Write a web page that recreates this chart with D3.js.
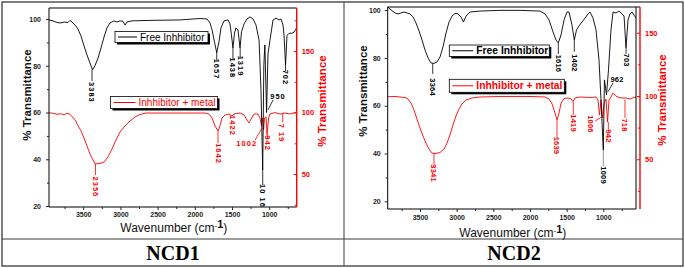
<!DOCTYPE html>
<html>
<head>
<meta charset="utf-8">
<script src="https://cdn.jsdelivr.net/npm/d3@7"></script>
<style>
    body { margin: 0; background: #ffffff; }
    svg text { font-family: Arial, "Liberation Sans", sans-serif; }
</style>
</head>
<body>
<script>
// ---------- 数据 ----------
// x 轴刻度
const wnMajorTicks = [3500, 3000, 2500, 2000, 1500, 1000];
const wnMinorTicks = [3750, 3250, 2750, 2250, 1750, 1250, 750];
const leftMajorTicks = [20, 40, 60, 80, 100];
const leftMinorTicks = [30, 50, 70, 90];
const rightMajorTicks = [50, 100, 150];
const rightMinorTicks = [25, 75, 125, 175];

const panelTitles = ['NCD1', 'NCD2'];
const seriesNames = ['Free Inhhibitor', 'Inhhibitor + metal'];

// NCD1 光谱 [波数, 透过率]
const ncd1Free = [
    [3960, 99.6], [3906, 99.2], [3852, 98.5], [3799, 98.3], [3758, 98.7], [3705, 98.5], [3678, 99.4],
    [3651, 98.7], [3610, 97.4], [3570, 95.7], [3530, 92.7], [3489, 88.5], [3449, 84.6], [3409, 81.2],
    [3375, 78.2], [3342, 80], [3301, 83.3], [3261, 87.6], [3220, 92.3], [3180, 96.2], [3140, 98.3],
    [3086, 99.2], [3046, 98.7], [3005, 99.2], [2965, 99], [2938, 97.4], [2911, 98.7], [2844, 99.2],
    [2602, 99.4], [2199, 99.6], [1930, 100.2], [1836, 100], [1795, 98.3], [1768, 95.3], [1735, 90.2],
    [1705, 85.5], [1675, 90.2], [1648, 96.2], [1607, 99.2], [1553, 99.6], [1527, 97.9], [1507, 93.2],
    [1487, 87.6], [1466, 94], [1446, 96.2], [1419, 95.3], [1392, 87.6], [1372, 94.5], [1338, 97.9],
    [1298, 100], [1258, 100.9], [1217, 100], [1177, 97.4], [1136, 91], [1110, 69.6], [1087, 35.4],
    [1072, 80], [1058, 88.9], [1035, 60], [1016, 85], [989, 91], [948, 99.6], [908, 100.4], [868, 99.6],
    [841, 100], [814, 97.4], [800, 93], [780, 80.3], [760, 93], [733, 93.9], [693, 93.9], [666, 94.4],
    [630, 96.2]
];
const ncd1Metal = [
    [3960, 99.8], [3906, 99.4], [3852, 98.6], [3799, 99], [3758, 98.2], [3718, 99.4], [3678, 98.6],
    [3651, 96.6], [3610, 94.2], [3570, 89.3], [3530, 85.2], [3489, 79.3], [3449, 72.8], [3409, 66.3],
    [3368, 61.4], [3342, 58.2], [3274, 58.6], [3220, 59.8], [3167, 63.9], [3113, 70.4], [3059, 77.7],
    [3005, 84.2], [2938, 89.1], [2871, 93.1], [2804, 96.4], [2737, 98.4], [2656, 99.6], [2199, 99.6],
    [1863, 99.6], [1809, 98.8], [1768, 95.6], [1728, 89.1], [1688, 85], [1661, 89.1], [1634, 95.6],
    [1594, 98], [1540, 98.8], [1500, 97.2], [1473, 98.8], [1392, 99.6], [1338, 98], [1298, 93.9],
    [1271, 91.5], [1244, 94.7], [1204, 98.8], [1150, 98.8], [1123, 95.6], [1103, 89.1], [1090, 95.6],
    [1076, 85.8], [1062, 95.6], [1042, 96.4], [1029, 81.8], [1008, 95.6], [989, 98.8], [922, 100],
    [854, 98.8], [787, 99.6], [720, 98.8], [630, 100.4]
];

// NCD2 光谱
const ncd2Free = [
    [3940, 101.3], [3895, 100.1], [3840, 98.8], [3800, 98.4], [3759, 98.8], [3718, 99.2], [3677, 98.8],
    [3636, 98.4], [3595, 97.2], [3554, 94.6], [3513, 91.3], [3472, 87.5], [3431, 83.3], [3390, 80],
    [3350, 77.9], [3309, 77.7], [3268, 78.3], [3227, 80.4], [3186, 84.6], [3145, 90.4], [3104, 95],
    [3063, 97.5], [3022, 98.6], [2981, 98.4], [2940, 97.1], [2907, 95], [2872, 97.5], [2818, 99.2],
    [2682, 99.6], [2409, 99.9], [2136, 99.9], [1864, 99.6], [1795, 98.4], [1741, 95.9], [1686, 90.9],
    [1646, 87.5], [1614, 86.3], [1577, 89.6], [1536, 95.9], [1496, 99.2], [1468, 99.2], [1428, 93.8],
    [1396, 87.5], [1366, 91.7], [1332, 93.4], [1291, 95], [1250, 96.7], [1210, 98.4], [1182, 99.2],
    [1141, 96.7], [1100, 91.7], [1059, 79.1], [1032, 62.4], [1001, 41.5], [985, 70.8], [957, 64.5],
    [930, 75], [896, 91.7], [868, 99.2], [828, 98.8], [787, 99.6], [746, 98.4], [718, 97.5], [691, 84.2],
    [664, 95.9], [637, 98.4], [609, 99.2], [582, 97.9], [555, 96.7]
];
const ncd2Metal = [
    [3940, 99.4], [3840, 99.6], [3772, 99.2], [3704, 98.8], [3663, 97.6], [3622, 94.4], [3581, 88.9],
    [3541, 81.8], [3500, 74.7], [3459, 68.4], [3418, 62.8], [3377, 58.1], [3336, 54.9], [3295, 54.5],
    [3227, 55.3], [3172, 58.1], [3131, 62.8], [3091, 69.2], [3050, 77], [3009, 84.2], [2968, 89.7],
    [2927, 93.7], [2872, 96.8], [2791, 98.4], [2682, 99.2], [2409, 99.6], [2000, 99.6], [1795, 99.2],
    [1741, 97.6], [1699, 93.7], [1659, 86.5], [1631, 81], [1604, 86.5], [1577, 94.4], [1536, 98],
    [1482, 98.4], [1441, 97.6], [1413, 95.6], [1386, 98.4], [1318, 99.2], [1182, 98.8], [1100, 99.2],
    [1073, 96.8], [1052, 84.9], [1032, 96.8], [1012, 82.6], [991, 93.7], [964, 97.6], [943, 79.4],
    [923, 96.8], [896, 99.2], [868, 102.3], [828, 99.9], [787, 98.8], [746, 98.4], [691, 98.4],
    [637, 97.6], [582, 98.8], [555, 99.2]
];

// 峰标注: 文本, 波数, 透过率, 是否竖排, 引线 [波数1, 值1, 波数2, 值2]
const ncd1FreePeaks = [
    {text: '3383', wn: 3382, t: 68.6, rot: true, lead: [3382, 78.2, 3382, 73.5]},
    {text: '1657', wn: 1705, t: 78.6, rot: true, lead: [1705, 85.5, 1705, 82.3]},
    {text: '1438', wn: 1487, t: 79.1, rot: true, lead: [1487, 87.6, 1487, 82.7]},
    {text: '1319', wn: 1390, t: 79.9, rot: true, lead: [1390, 87.6, 1390, 83.5]},
    {text: '702', wn: 780, t: 75, rot: true, lead: [780, 80.3, 780, 77.7]},
    {text: '950', wn: 881, t: 67, rot: false, lead: [948, 65.4, 1016, 61.1]},
    {text: '10 16', wn: 1087, t: 24.3, rot: true, lead: [1087, 35.4, 1087, 29]}
];
const ncd1MetalPeaks = [
    {text: '2356', wn: 3335, t: 39.5, rot: true, lead: [3335, 58.2, 3335, 49.2]},
    {text: '1642', wn: 1688, t: 66.7, rot: true, lead: [1688, 85, 1688, 75.2]},
    {text: '1422', wn: 1493, t: 89.5, rot: true, lead: null},
    {text: '1002', wn: 1302, t: 75.2, rot: false, lead: [1190, 77.7, 1096, 87.4]},
    {text: '942', wn: 1025, t: 75.2, rot: true, lead: [1025, 81.8, 1025, 78.6]},
    {text: '7 19', wn: 841, t: 83.4, rot: true, lead: [818, 99.6, 818, 91.9]}
];
const ncd2FreePeaks = [
    {text: '3364', wn: 3326, t: 67.8, rot: true, lead: [3326, 77.7, 3326, 73.3]},
    {text: '1616', wn: 1614, t: 77.7, rot: true, lead: [1614, 86.3, 1614, 81.6]},
    {text: '1402', wn: 1396, t: 77.9, rot: true, lead: [1396, 87.5, 1396, 82.6]},
    {text: '1009', wn: 1001, t: 31, rot: true, lead: [1001, 41.5, 1001, 34.6]},
    {text: '962', wn: 814, t: 70.8, rot: false, lead: [936, 65.9, 868, 69.5]},
    {text: '703', wn: 691, t: 79.1, rot: true, lead: [691, 84.2, 691, 81.7]}
];
const ncd2MetalPeaks = [
    {text: '3341', wn: 3309, t: 39.1, rot: true, lead: [3309, 54.5, 3309, 44.3]},
    {text: '1639', wn: 1632, t: 60.9, rot: true, lead: [1632, 81, 1632, 66.8]},
    {text: '1419', wn: 1410, t: 78.6, rot: true, lead: [1410, 95.6, 1410, 85]},
    {text: '1006', wn: 1182, t: 77.9, rot: true, lead: [1113, 80.2, 1022, 83.5]},
    {text: '942', wn: 932, t: 68.4, rot: true, lead: [932, 79.4, 932, 72.3]},
    {text: '718', wn: 705, t: 77.1, rot: true, lead: [705, 96.8, 705, 82.6]}
];

const RED = '#ff0000';

const svg = d3.select('body').append('svg')
    .attr('width', 685)
    .attr('height', 268);

// ---------- 表格外框 ----------
const table = svg.append('g').attr('stroke', '#3a3a3a').attr('fill', 'none');
table.append('rect').attr('x', 2).attr('y', 2).attr('width', 681).attr('height', 264).attr('stroke-width', 1.3);
table.append('line').attr('x1', 344).attr('x2', 344).attr('y1', 2).attr('y2', 266);
table.append('line').attr('x1', 2).attr('x2', 683).attr('y1', 239).attr('y2', 239);

/**
 * 绘制一个光谱面板
 */
const drawPanel = (p) => {
    const x = d3.scaleLinear().domain(p.xDomain).range([p.left, p.right]);
    const yL = d3.scaleLinear().domain(p.yLeftDomain).range([p.bottom, p.top]);
    const yR = d3.scaleLinear().domain(p.yRightDomain).range([p.bottom, p.top]);
    const g = svg.append('g');

    // 曲线
    const lineFor = ys => d3.line().x(d => x(d[0])).y(d => ys(d[1]));
    g.append('path').datum(p.metal)
        .attr('d', lineFor(yR))
        .attr('fill', 'none').attr('stroke', RED).attr('stroke-width', 0.9);
    g.append('path').datum(p.free)
        .attr('d', lineFor(yL))
        .attr('fill', 'none').attr('stroke', '#000').attr('stroke-width', 0.9);

    // 边框
    g.append('path')
        .attr('d', `M${p.redX},${p.top} H${p.left} V${p.bottom} H${p.right}` + (p.redX !== p.right ? ` M${p.right},${p.top} V${p.bottom}` : ''))
        .attr('fill', 'none').attr('stroke', '#000').attr('stroke-width', 1);
    g.append('line')
        .attr('x1', p.redX).attr('x2', p.redX).attr('y1', p.top).attr('y2', p.bottom)
        .attr('stroke', RED).attr('stroke-width', 1.4);

    const styleTicks = (sel, color, size) => {
        sel.select('.domain').remove();
        sel.selectAll('line').attr('stroke', color);
        sel.selectAll('text')
            .attr('fill', color)
            .attr('font-size', size)
            .attr('font-weight', 'bold')
            .attr('font-family', 'Arial, "Liberation Sans", sans-serif');
    };

    // x 轴
    const xAxisG = g.append('g').attr('transform', `translate(0,${p.bottom})`)
        .call(d3.axisBottom(x).tickValues(wnMajorTicks).tickSize(3).tickPadding(p.xPad).tickFormat(d3.format('d')));
    styleTicks(xAxisG, '#222', 7);
    g.append('g').attr('transform', `translate(0,${p.bottom})`)
        .call(d3.axisBottom(x).tickValues(wnMinorTicks).tickSize(2).tickFormat(''))
        .call(s => styleTicks(s, '#222', 7));

    // 左 y 轴
    const yLG = g.append('g').attr('transform', `translate(${p.left},0)`)
        .call(d3.axisLeft(yL).tickValues(leftMajorTicks).tickSize(3).tickPadding(p.yPad));
    styleTicks(yLG, '#222', 7);
    g.append('g').attr('transform', `translate(${p.left},0)`)
        .call(d3.axisLeft(yL).tickValues(leftMinorTicks).tickSize(2).tickFormat(''))
        .call(s => styleTicks(s, '#222', 7));

    // 右 y 轴 (红色)
    const yRG = g.append('g').attr('transform', `translate(${p.redX},0)`)
        .call(d3.axisRight(yR).tickValues(rightMajorTicks).tickSizeInner(-3).tickSizeOuter(0).tickPadding(5));
    styleTicks(yRG, RED, 7.5);
    g.append('g').attr('transform', `translate(${p.redX},0)`)
        .call(d3.axisRight(yR).tickValues(rightMinorTicks.filter(v => v > p.yRightDomain[0] && v < p.yRightDomain[1]))
            .tickSizeInner(-2).tickSizeOuter(0).tickFormat(''))
        .call(s => styleTicks(s, RED, 7));

    // 轴标题
    const xt = g.append('text')
        .attr('x', (p.left + p.right) / 2 + 1).attr('y', p.xTitleY)
        .attr('text-anchor', 'middle').attr('font-size', 12).attr('fill', '#111')
        .text('Wavenumber (cm');
    xt.append('tspan').attr('dy', -4).attr('font-size', 8).text('-');
    xt.append('tspan').attr('font-size', 11).attr('font-weight', 'bold').text('1');
    xt.append('tspan').attr('dy', 4).text(')');

    g.append('text')
        .attr('transform', `translate(${p.leftTitleX},${p.leftTitleY}) rotate(-90)`)
        .attr('text-anchor', 'middle').attr('dominant-baseline', 'central')
        .attr('font-size', 11.5).attr('font-weight', 'bold').attr('fill', '#111')
        .text('% Transmittance');
    g.append('text')
        .attr('transform', `translate(${p.rightTitleX},${p.rightTitleY}) rotate(-90)`)
        .attr('text-anchor', 'middle').attr('dominant-baseline', 'central')
        .attr('font-size', 11.5).attr('font-weight', 'bold').attr('fill', RED)
        .text('% Transmittance');

    // 峰标注
    const drawPeaks = (peaks, ys, color) => {
        peaks.forEach(pk => {
            if (pk.lead) {
                g.append('line')
                    .attr('x1', x(pk.lead[0])).attr('y1', ys(pk.lead[1]))
                    .attr('x2', x(pk.lead[2])).attr('y2', ys(pk.lead[3]))
                    .attr('stroke', pk.text === '1009' ? '#777' : color).attr('stroke-width', 0.8);
            }
            g.append('text')
                .attr('transform', `translate(${x(pk.wn)},${ys(pk.t)})` + (pk.rot ? ' rotate(90)' : ''))
                .attr('text-anchor', 'middle').attr('dominant-baseline', 'central')
                .attr('font-size', p.peakFont).attr('font-weight', p.peakWeight)
                .attr('letter-spacing', p.peakSpacing)
                .attr('fill', color)
                .text(pk.text);
        });
    };
    drawPeaks(p.freePeaks, yL, '#000');
    drawPeaks(p.metalPeaks, yR, RED);

    // 图例
    const drawLegend = (lg, name, color) => {
        const lgG = g.append('g');
        lgG.append('rect').attr('x', lg.x + 2).attr('y', lg.y + 2).attr('width', lg.w).attr('height', lg.h).attr('fill', '#000');
        lgG.append('rect').attr('x', lg.x).attr('y', lg.y).attr('width', lg.w).attr('height', lg.h)
            .attr('fill', '#fff').attr('stroke', '#000').attr('stroke-width', 0.8);
        lgG.append('line')
            .attr('x1', lg.x + 3).attr('x2', lg.x + lg.sample).attr('y1', lg.y + lg.h / 2).attr('y2', lg.y + lg.h / 2)
            .attr('stroke', color).attr('stroke-width', 1);
        lgG.append('text')
            .attr('x', lg.x + lg.sample + 3).attr('y', lg.y + lg.h / 2)
            .attr('dominant-baseline', 'central')
            .attr('font-size', p.legendFont).attr('font-weight', p.legendWeight)
            .attr('fill', color)
            .text(name);
    };
    drawLegend(p.legendFree, seriesNames[0], '#000');
    drawLegend(p.legendMetal, seriesNames[1], RED);

    // 面板编号
    svg.append('text')
        .attr('x', p.titleX).attr('y', 260)
        .attr('text-anchor', 'middle')
        .attr('font-family', '"Liberation Serif", "Times New Roman", serif')
        .style('font-family', '"Liberation Serif", "Times New Roman", serif')
        .attr('font-size', 20).attr('font-weight', 'bold').attr('fill', '#000')
        .text(p.title);
};

drawPanel({
    title: panelTitles[0], titleX: 173,
    xDomain: [3960, 630], yLeftDomain: [19.6, 104.7], yRightDomain: [23.2, 185],
    left: 49, right: 296.7, redX: 296.7, top: 8, bottom: 207,
    xPad: 2, yPad: 5, xTitleY: 232,
    leftTitleX: 27, leftTitleY: 95, rightTitleX: 322, rightTitleY: 101,
    free: ncd1Free, metal: ncd1Metal, freePeaks: ncd1FreePeaks, metalPeaks: ncd1MetalPeaks,
    peakFont: 7.5, peakWeight: 'bold', peakSpacing: 1,
    legendFont: 10, legendWeight: 'normal',
    legendFree: {x: 115, y: 31.5, w: 93, h: 11, sample: 22},
    legendMetal: {x: 110.5, y: 96.5, w: 107, h: 12, sample: 25}
});

drawPanel({
    title: panelTitles[1], titleX: 514,
    xDomain: [3940, 555], yLeftDomain: [16.8, 101.3], yRightDomain: [10.7, 170.3],
    left: 387.7, right: 636, redX: 640, top: 7, bottom: 209,
    xPad: 3, yPad: 4, xTitleY: 237,
    leftTitleX: 363, leftTitleY: 91, rightTitleX: 661.5, rightTitleY: 100,
    free: ncd2Free, metal: ncd2Metal, freePeaks: ncd2FreePeaks, metalPeaks: ncd2MetalPeaks,
    peakFont: 7.5, peakWeight: 'bold', peakSpacing: 0.2,
    legendFont: 10.3, legendWeight: 'bold',
    legendFree: {x: 449.3, y: 45, w: 100, h: 11.5, sample: 24},
    legendMetal: {x: 449.3, y: 79.3, w: 115, h: 13, sample: 24}
});
</script>
</body>
</html>
